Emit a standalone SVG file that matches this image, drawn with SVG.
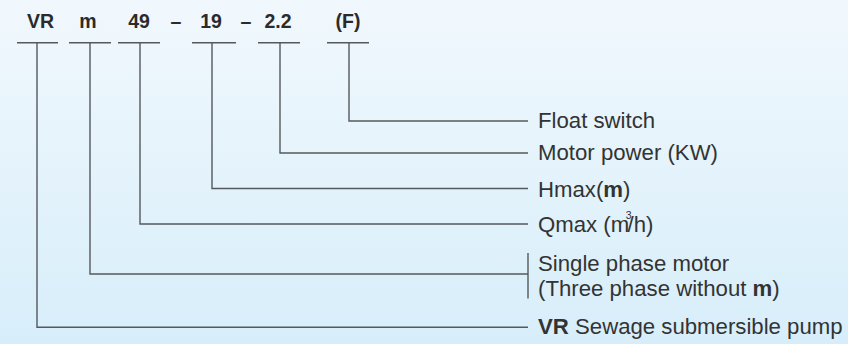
<svg xmlns="http://www.w3.org/2000/svg" width="848" height="344" viewBox="0 0 848 344">
<defs>
<linearGradient id="bg" x1="0" y1="0" x2="0" y2="1">
<stop offset="0" stop-color="#f1f8fd"/>
<stop offset="1" stop-color="#d7eefa"/>
</linearGradient>
</defs>
<style>
.ln{fill:none;stroke:#55595c;stroke-width:1.4}
.top{font-family:"Liberation Sans",Arial,sans-serif;font-size:19.5px;font-weight:bold;fill:#2b2b2b;text-anchor:middle}
.lbl{font-family:"Liberation Sans",Arial,sans-serif;font-size:22.2px;fill:#333333}
.b{font-weight:bold}
</style>
<rect x="0" y="0" width="848" height="344" fill="url(#bg)"/>
<g id="code">
<text class="top" x="40.5" y="28.3">VR</text>
<text class="top" x="88" y="28.3">m</text>
<text class="top" x="139" y="28.3">49</text>
<text class="top" x="176" y="28.3">–</text>
<text class="top" x="211" y="28.3">19</text>
<text class="top" x="246" y="28.3">–</text>
<text class="top" x="278" y="28.3">2.2</text>
<text class="top" x="348" y="28.3">(F)</text>
</g>
<g id="connectors">
<path class="ln" d="M17 42.7H58M37 42.7V327.3H528"/>
<path class="ln" d="M69 42.7H111M90 42.7V274H528M528 253V298.5"/>
<path class="ln" d="M118 42.7H160M140 42.7V224H528"/>
<path class="ln" d="M192 42.7H236M212 42.7V188.5H528"/>
<path class="ln" d="M258 42.7H300M280 42.7V153H528"/>
<path class="ln" d="M327 42.7H369M349 42.7V121H528"/>
</g>
<g id="n-float"><text class="lbl" x="538" y="127.7">Float switch</text></g>
<g id="n-motor"><text class="lbl" x="538" y="159.5">Motor power (KW)</text></g>
<g id="n-hmax"><text class="lbl" x="538" y="196.5">Hmax(<tspan class="b">m</tspan>)</text></g>
<g id="n-qmax"><text class="lbl" x="538" y="232.3">Qmax (m<tspan font-size="10.5" dx="-3.5" dy="-13">3</tspan><tspan dx="-4" dy="13">/h)</tspan></text></g>
<g id="n-phase">
<text class="lbl" x="538" y="270.7">Single phase motor</text>
<text class="lbl" x="538" y="295.5">(Three phase without <tspan class="b">m</tspan>)</text>
</g>
<g id="n-vr"><text class="lbl" x="538" y="334"><tspan class="b">VR</tspan> Sewage submersible pump</text></g>
</svg>
